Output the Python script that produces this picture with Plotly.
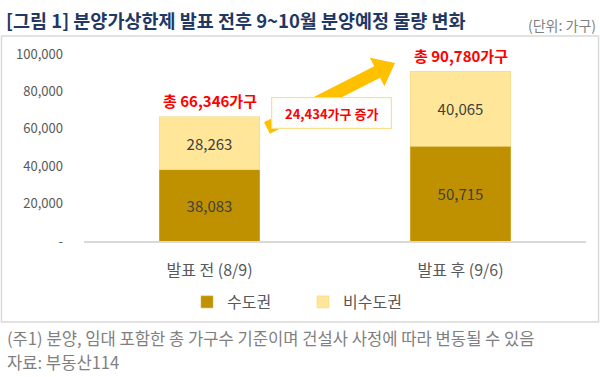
import plotly.graph_objects as go
import numpy as np

# ---- data ----
categories = ["발표 전 (8/9)", "발표 후 (9/6)"]
capital = [38083, 50715]        # 수도권
noncapital = [28263, 40065]     # 비수도권
series_names = ["수도권", "비수도권"]
y_tickvals = [0, 20000, 40000, 60000, 80000, 100000]
y_ticktext = ["-", "20,000", "40,000", "60,000", "80,000", "100,000"]

totals = [a + b for a, b in zip(capital, noncapital)]
diff = totals[1] - totals[0]

W, H = 600, 377
L, R, T, B = 84, 14, 54, 136
PW, PH = W - L - R, H - T - B

def px(x):
    return (x - L) / PW

def py(y):
    return (H - B - y) / PH

FONT = "Noto Sans CJK KR"
GOLD = "#BF9000"
LIGHT = "#FFE699"
GRAY = "#595959"

fig = go.Figure()
fig.add_trace(go.Bar(
    x=categories, y=capital, name=series_names[0],
    marker=dict(color=GOLD, line=dict(color="#D9B64A", width=0.6)),
    width=0.4, texttemplate="%{y:,}", textposition="inside",
    insidetextanchor="middle", textfont=dict(color="#404040", size=15, family=FONT),
))
fig.add_trace(go.Bar(
    x=categories, y=noncapital, name=series_names[1],
    marker=dict(color=LIGHT, line=dict(color="#F2D78A", width=0.6)),
    width=0.4, texttemplate="%{y:,}", textposition="inside",
    insidetextanchor="middle", textfont=dict(color="#404040", size=15, family=FONT),
))

annotations = []
for c, t in zip(categories, totals):
    annotations.append(dict(
        x=c, y=t, xref="x", yref="y", yshift=16, showarrow=False,
        text=f"<b>총 {t:,}가구</b>", font=dict(color="#FF0000", size=15, family=FONT),
    ))

# increase box
annotations.append(dict(
    x=px(331.5), y=py(97), xref="paper", yref="paper", showarrow=False,
    text=f"<b>{diff:,}가구 증가</b>", font=dict(color="#FF0000", size=13, family=FONT),
    bgcolor="white", bordercolor="#FFE08A", borderwidth=1.2, width=117, height=28,
))

# title & unit & notes
annotations += [
    dict(x=px(4), y=py(20), xref="paper", yref="paper", xanchor="left", yanchor="middle",
         showarrow=False, text="<b>[그림 1] 분양가상한제 발표 전후 9~10월 분양예정 물량 변화</b>",
         font=dict(color="#1F3864", size=18.5, family=FONT)),
    dict(x=px(598), y=py(25), xref="paper", yref="paper", xanchor="right", yanchor="middle",
         showarrow=False, text="(단위: 가구)", font=dict(color="#7F7F7F", size=14, family=FONT)),
    dict(x=px(5), y=py(338), xref="paper", yref="paper", xanchor="left", yanchor="middle",
         showarrow=False, text="(주1) 분양, 임대 포함한 총 가구수 기준이며 건설사 사정에 따라 변동될 수 있음",
         font=dict(color="#7F7F7F", size=16.6, family=FONT)),
    dict(x=px(5), y=py(362), xref="paper", yref="paper", xanchor="left", yanchor="middle",
         showarrow=False, text="자료: 부동산114",
         font=dict(color="#7F7F7F", size=16.6, family=FONT)),
]

# arrow polygon (decorative), pixel -> paper
tail = np.array([267.0, 128.0])
tip = np.array([395.0, 63.0])
u = (tip - tail) / np.linalg.norm(tip - tail)
n = np.array([-u[1], u[0]])
hb = tip - 20 * u
pts = [tail - 6.5 * n, hb - 6.5 * n, hb - 16 * n, tip, hb + 16 * n, hb + 6.5 * n, tail + 6.5 * n]
path = "M " + " L ".join(f"{px(p[0]):.5f},{py(p[1]):.5f}" for p in pts) + " Z"

shapes = [
    dict(type="rect", xref="paper", yref="paper", x0=px(1.5), x1=px(598.5), y0=py(36), y1=py(322),
         line=dict(color="#D9D9D9", width=1.5), fillcolor="rgba(0,0,0,0)", layer="below"),
    dict(type="path", xref="paper", yref="paper", path=path, fillcolor="#FFC000",
         line=dict(width=0), layer="above"),
]

fig.update_layout(
    width=W, height=H, barmode="stack",
    margin=dict(l=L, r=R, t=T, b=B, autoexpand=False),
    paper_bgcolor="white", plot_bgcolor="white",
    font=dict(family=FONT, color=GRAY, size=13),
    showlegend=True,
    legend=dict(orientation="h", xref="container", yref="container", x=0.5 + 3 / W, xanchor="center",
                y=1 - 302 / H, yanchor="middle", font=dict(size=16, color=GRAY, family=FONT),
                entrywidth=71, traceorder="normal"),
    annotations=annotations, shapes=shapes,
    xaxis=dict(showline=True, linecolor="#D9D9D9", linewidth=2, ticks="", showgrid=False,
               tickfont=dict(size=16, color=GRAY, family=FONT), ticklabelstandoff=14),
    yaxis=dict(range=[0, 100000], tickvals=y_tickvals, ticktext=y_ticktext, showgrid=False,
               zeroline=False, showline=False, ticks="", ticklabelstandoff=20,
               tickfont=dict(size=13, color=GRAY, family=FONT)),
)

fig.write_html("out.html", config={"displayModeBar": False},
               post_script="document.body.style.margin='0';document.body.style.padding='0';")
